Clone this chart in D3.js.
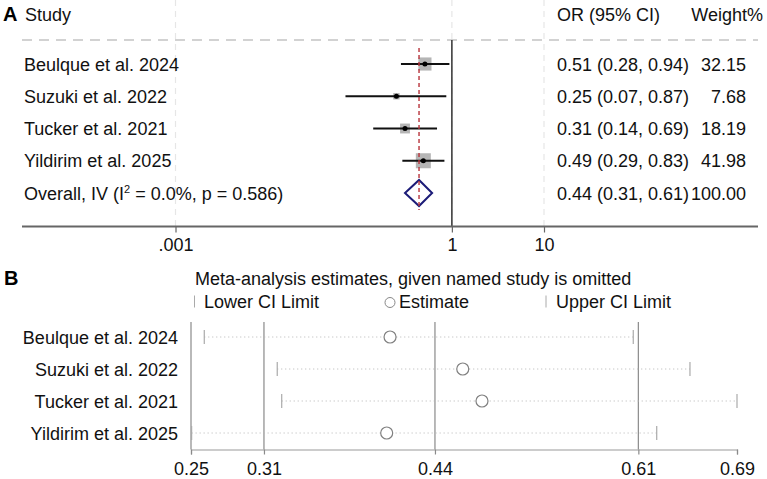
<!DOCTYPE html>
<html>
<head>
<meta charset="utf-8">
<script src="https://cdn.jsdelivr.net/npm/d3@7"></script>
<style>
body { margin: 0; background: #fff; }
svg { display: block; font-family: "Liberation Sans", Arial, sans-serif; }
</style>
</head>
<body>
<div id="chart"></div>
<script>
// studies (same order in both panels)
var studies = ["Beulque et al. 2024", "Suzuki et al. 2022", "Tucker et al. 2021", "Yildirim et al. 2025"];

// panel A: odds ratios, 95% CI and weights
var orEst = [0.51, 0.25, 0.31, 0.49];
var orLow = [0.28, 0.07, 0.14, 0.29];
var orHigh = [0.94, 0.87, 0.69, 0.83];
var weights = [32.15, 7.68, 18.19, 41.98];
var overallOR = [0.44, 0.31, 0.61];   // estimate, low, high
var overallWeight = 100;
var aTicks = [0.001, 1, 10];
var aTickLabels = [".001", "1", "10"];

// panel B: estimates with each study omitted
var infEst = [0.4104, 0.4690, 0.4845, 0.4077];
var infLow = [0.2607, 0.3195, 0.3231, 0.2505];
var infHigh = [0.6064, 0.6521, 0.6900, 0.6253];
var bTicks = [0.25, 0.3088, 0.4466, 0.6105, 0.69];
var bTickLabels = ["0.25", "0.31", "0.44", "0.61", "0.69"];

var width = 767, height = 479;

var svg = d3.select("#chart")
  .append("svg")
    .attr("width", width)
    .attr("height", height);

svg.append("rect").attr("width", width).attr("height", height).attr("fill", "#fff");

// ---------------- panel A ----------------
var xA = d3.scaleLog()
  .domain([0.001, 10])
  .range([175.5, 544]);
var yA = d3.scalePoint()
  .domain(d3.range(studies.length + 1))
  .range([64, 193]);
var axisYA = 226.5;

var gA = svg.append("g");

// faint dashed gridlines at the ticks
gA.selectAll(".gridA")
  .data(aTicks)
  .enter().append("line")
    .attr("x1", function(d) { return xA(d); })
    .attr("x2", function(d) { return xA(d); })
    .attr("y1", 0)
    .attr("y2", axisYA)
    .attr("stroke", "#e6e6e6")
    .attr("stroke-width", 1.2)
    .attr("stroke-dasharray", "6,5");

// header separator
gA.append("line")
  .attr("x1", 22).attr("x2", 758)
  .attr("y1", 40).attr("y2", 40)
  .attr("stroke", "#c4c4c4")
  .attr("stroke-width", 1.5)
  .attr("stroke-dasharray", "10,7");

// no-effect line
gA.append("line")
  .attr("x1", xA(1)).attr("x2", xA(1))
  .attr("y1", 40).attr("y2", axisYA)
  .attr("stroke", "#333")
  .attr("stroke-width", 1.5);

var box = d3.scaleSqrt()
  .domain([0, d3.max(weights)])
  .range([0, 15]);

// weight squares
gA.selectAll(".box")
  .data(studies)
  .enter().append("rect")
    .attr("x", function(d, i) { return xA(orEst[i]) - box(weights[i]) / 2; })
    .attr("y", function(d, i) { return yA(i) - box(weights[i]) / 2; })
    .attr("width", function(d, i) { return box(weights[i]); })
    .attr("height", function(d, i) { return box(weights[i]); })
    .attr("fill", "#b5b5b5");

// confidence intervals
gA.selectAll(".ci")
  .data(studies)
  .enter().append("line")
    .attr("x1", function(d, i) { return xA(orLow[i]); })
    .attr("x2", function(d, i) { return xA(orHigh[i]); })
    .attr("y1", function(d, i) { return yA(i); })
    .attr("y2", function(d, i) { return yA(i); })
    .attr("stroke", "#111")
    .attr("stroke-width", 2);

gA.selectAll(".dot")
  .data(studies)
  .enter().append("circle")
    .attr("cx", function(d, i) { return xA(orEst[i]); })
    .attr("cy", function(d, i) { return yA(i); })
    .attr("r", 2.5)
    .attr("fill", "#000");

// overall diamond
var yo = yA(studies.length);
gA.append("path")
  .attr("d", "M" + xA(overallOR[1]) + "," + yo +
             "L" + xA(overallOR[0]) + "," + (yo - 13) +
             "L" + xA(overallOR[2]) + "," + yo +
             "L" + xA(overallOR[0]) + "," + (yo + 13) + "Z")
  .attr("fill", "#fff")
  .attr("stroke", "#1c1c78")
  .attr("stroke-width", 2);

// overall estimate line (drawn over the diamond)
gA.append("line")
  .attr("x1", xA(overallOR[0])).attr("x2", xA(overallOR[0]))
  .attr("y1", 48).attr("y2", 210)
  .attr("stroke", "#b8343c")
  .attr("stroke-width", 1.4)
  .attr("stroke-dasharray", "4,3");

// x axis
gA.append("line")
  .attr("x1", 22).attr("x2", 758)
  .attr("y1", axisYA).attr("y2", axisYA)
  .attr("stroke", "#666")
  .attr("stroke-width", 2);
var axA = gA.append("g")
  .attr("transform", "translate(0," + axisYA + ")")
  .call(d3.axisBottom(xA)
    .tickValues(aTicks)
    .tickFormat(function(d, i) { return aTickLabels[i]; })
    .tickSize(6)
    .tickPadding(6));
axA.select(".domain").remove();
axA.selectAll("line").attr("stroke", "#666").attr("stroke-width", 1.2);
axA.selectAll("text").attr("font-size", 18).attr("font-family", "Liberation Sans, Arial").attr("fill", "#111");

// text columns
var fmt = d3.format(".2f");
gA.append("text").attr("x", 3).attr("y", 21).attr("font-size", 20).attr("font-weight", "bold").text("A");
gA.append("text").attr("x", 25).attr("y", 20.5).attr("font-size", 18).attr("fill", "#111").text("Study");
gA.append("text").attr("x", 557).attr("y", 20.5).attr("font-size", 18).attr("fill", "#111").text("OR (95% CI)");
gA.append("text").attr("x", 763).attr("y", 20.5).attr("font-size", 18).attr("fill", "#111")
  .attr("text-anchor", "end").text("Weight%");

gA.selectAll(".lab")
  .data(studies)
  .enter().append("text")
    .attr("x", 24)
    .attr("y", function(d, i) { return yA(i) + 6.5; })
    .attr("font-size", 18)
    .attr("fill", "#111")
    .text(function(d) { return d; });

var ovLab = gA.append("text")
  .attr("x", 24).attr("y", yo + 6.5)
  .attr("font-size", 18).attr("fill", "#111");
ovLab.append("tspan").text("Overall, IV (I");
ovLab.append("tspan").attr("font-size", 11).attr("dy", -7).text("2");
ovLab.append("tspan").attr("dy", 7).text(" = 0.0%, p = 0.586)");

gA.selectAll(".ciText")
  .data(studies)
  .enter().append("text")
    .attr("x", 557)
    .attr("y", function(d, i) { return yA(i) + 6.5; })
    .attr("font-size", 18)
    .attr("fill", "#111")
    .text(function(d, i) { return fmt(orEst[i]) + " (" + fmt(orLow[i]) + ", " + fmt(orHigh[i]) + ")"; });
gA.append("text")
  .attr("x", 557).attr("y", yo + 6.5)
  .attr("font-size", 18).attr("fill", "#111")
  .text(fmt(overallOR[0]) + " (" + fmt(overallOR[1]) + ", " + fmt(overallOR[2]) + ")");

gA.selectAll(".wText")
  .data(weights.concat([overallWeight]))
  .enter().append("text")
    .attr("x", 746)
    .attr("y", function(d, i) { return yA(i) + 6.5; })
    .attr("font-size", 18)
    .attr("fill", "#111")
    .attr("text-anchor", "end")
    .text(function(d) { return fmt(d); });

// ---------------- panel B ----------------
var xB = d3.scaleLinear()
  .domain([0.25, 0.69])
  .range([191, 737]);
var yB = d3.scalePoint()
  .domain(studies)
  .range([337, 433]);
var axisYB = 449.5;

var gB = svg.append("g");

gB.append("text").attr("x", 4).attr("y", 285).attr("font-size", 20).attr("font-weight", "bold").text("B");
gB.append("text").attr("x", 195).attr("y", 284.5).attr("font-size", 18).attr("fill", "#111")
  .text("Meta-analysis estimates, given named study is omitted");

// legend
var legY = 301.5;
gB.append("line").attr("x1", 194.5).attr("x2", 194.5).attr("y1", legY - 6).attr("y2", legY + 6)
  .attr("stroke", "#aaa");
gB.append("text").attr("x", 204).attr("y", legY + 6.5).attr("font-size", 18).attr("fill", "#111").text("Lower CI Limit");
gB.append("circle").attr("cx", 390).attr("cy", legY + 1).attr("r", 5)
  .attr("fill", "none").attr("stroke", "#888");
gB.append("text").attr("x", 399).attr("y", legY + 6.5).attr("font-size", 18).attr("fill", "#111").text("Estimate");
gB.append("line").attr("x1", 546).attr("x2", 546).attr("y1", legY - 6).attr("y2", legY + 6)
  .attr("stroke", "#aaa");
gB.append("text").attr("x", 556).attr("y", legY + 6.5).attr("font-size", 18).attr("fill", "#111").text("Upper CI Limit");

// reference lines at the ticks (except the last)
gB.selectAll(".refB")
  .data(bTicks.slice(0, 4))
  .enter().append("line")
    .attr("x1", function(d) { return xB(d); })
    .attr("x2", function(d) { return xB(d); })
    .attr("y1", 322)
    .attr("y2", axisYB)
    .attr("stroke", "#8a8a8a")
    .attr("stroke-width", 1.2);

// dotted spans
gB.selectAll(".span")
  .data(studies)
  .enter().append("line")
    .attr("x1", function(d, i) { return xB(infLow[i]); })
    .attr("x2", function(d, i) { return xB(infHigh[i]); })
    .attr("y1", function(d) { return yB(d); })
    .attr("y2", function(d) { return yB(d); })
    .attr("stroke", "#b5b5b5")
    .attr("stroke-width", 1)
    .attr("stroke-dasharray", "1,3");

// CI limit marks
gB.selectAll(".lowMark")
  .data(studies)
  .enter().append("line")
    .attr("x1", function(d, i) { return xB(infLow[i]); })
    .attr("x2", function(d, i) { return xB(infLow[i]); })
    .attr("y1", function(d) { return yB(d) - 7; })
    .attr("y2", function(d) { return yB(d) + 7; })
    .attr("stroke", "#aaa")
    .attr("stroke-width", 1.2);
gB.selectAll(".highMark")
  .data(studies)
  .enter().append("line")
    .attr("x1", function(d, i) { return xB(infHigh[i]); })
    .attr("x2", function(d, i) { return xB(infHigh[i]); })
    .attr("y1", function(d) { return yB(d) - 7; })
    .attr("y2", function(d) { return yB(d) + 7; })
    .attr("stroke", "#aaa")
    .attr("stroke-width", 1.2);

// estimates
gB.selectAll(".est")
  .data(studies)
  .enter().append("circle")
    .attr("cx", function(d, i) { return xB(infEst[i]); })
    .attr("cy", function(d) { return yB(d); })
    .attr("r", 6)
    .attr("fill", "#fff")
    .attr("stroke", "#808080")
    .attr("stroke-width", 1.2);

// study labels
gB.selectAll(".labB")
  .data(studies)
  .enter().append("text")
    .attr("x", 178)
    .attr("y", function(d) { return yB(d) + 6.5; })
    .attr("font-size", 18)
    .attr("fill", "#111")
    .attr("text-anchor", "end")
    .text(function(d) { return d; });

// x axis
var axB = gB.append("g")
  .attr("transform", "translate(0," + axisYB + ")")
  .call(d3.axisBottom(xB)
    .tickValues(bTicks)
    .tickFormat(function(d, i) { return bTickLabels[i]; })
    .tickSizeOuter(0)
    .tickSize(5)
    .tickPadding(8));
axB.select(".domain").attr("stroke", "#999").attr("stroke-width", 1.2);
axB.selectAll("line").attr("stroke", "#8a8a8a").attr("stroke-width", 1.2);
axB.selectAll("text").attr("font-size", 18).attr("font-family", "Liberation Sans, Arial").attr("fill", "#111");
</script>
</body>
</html>
